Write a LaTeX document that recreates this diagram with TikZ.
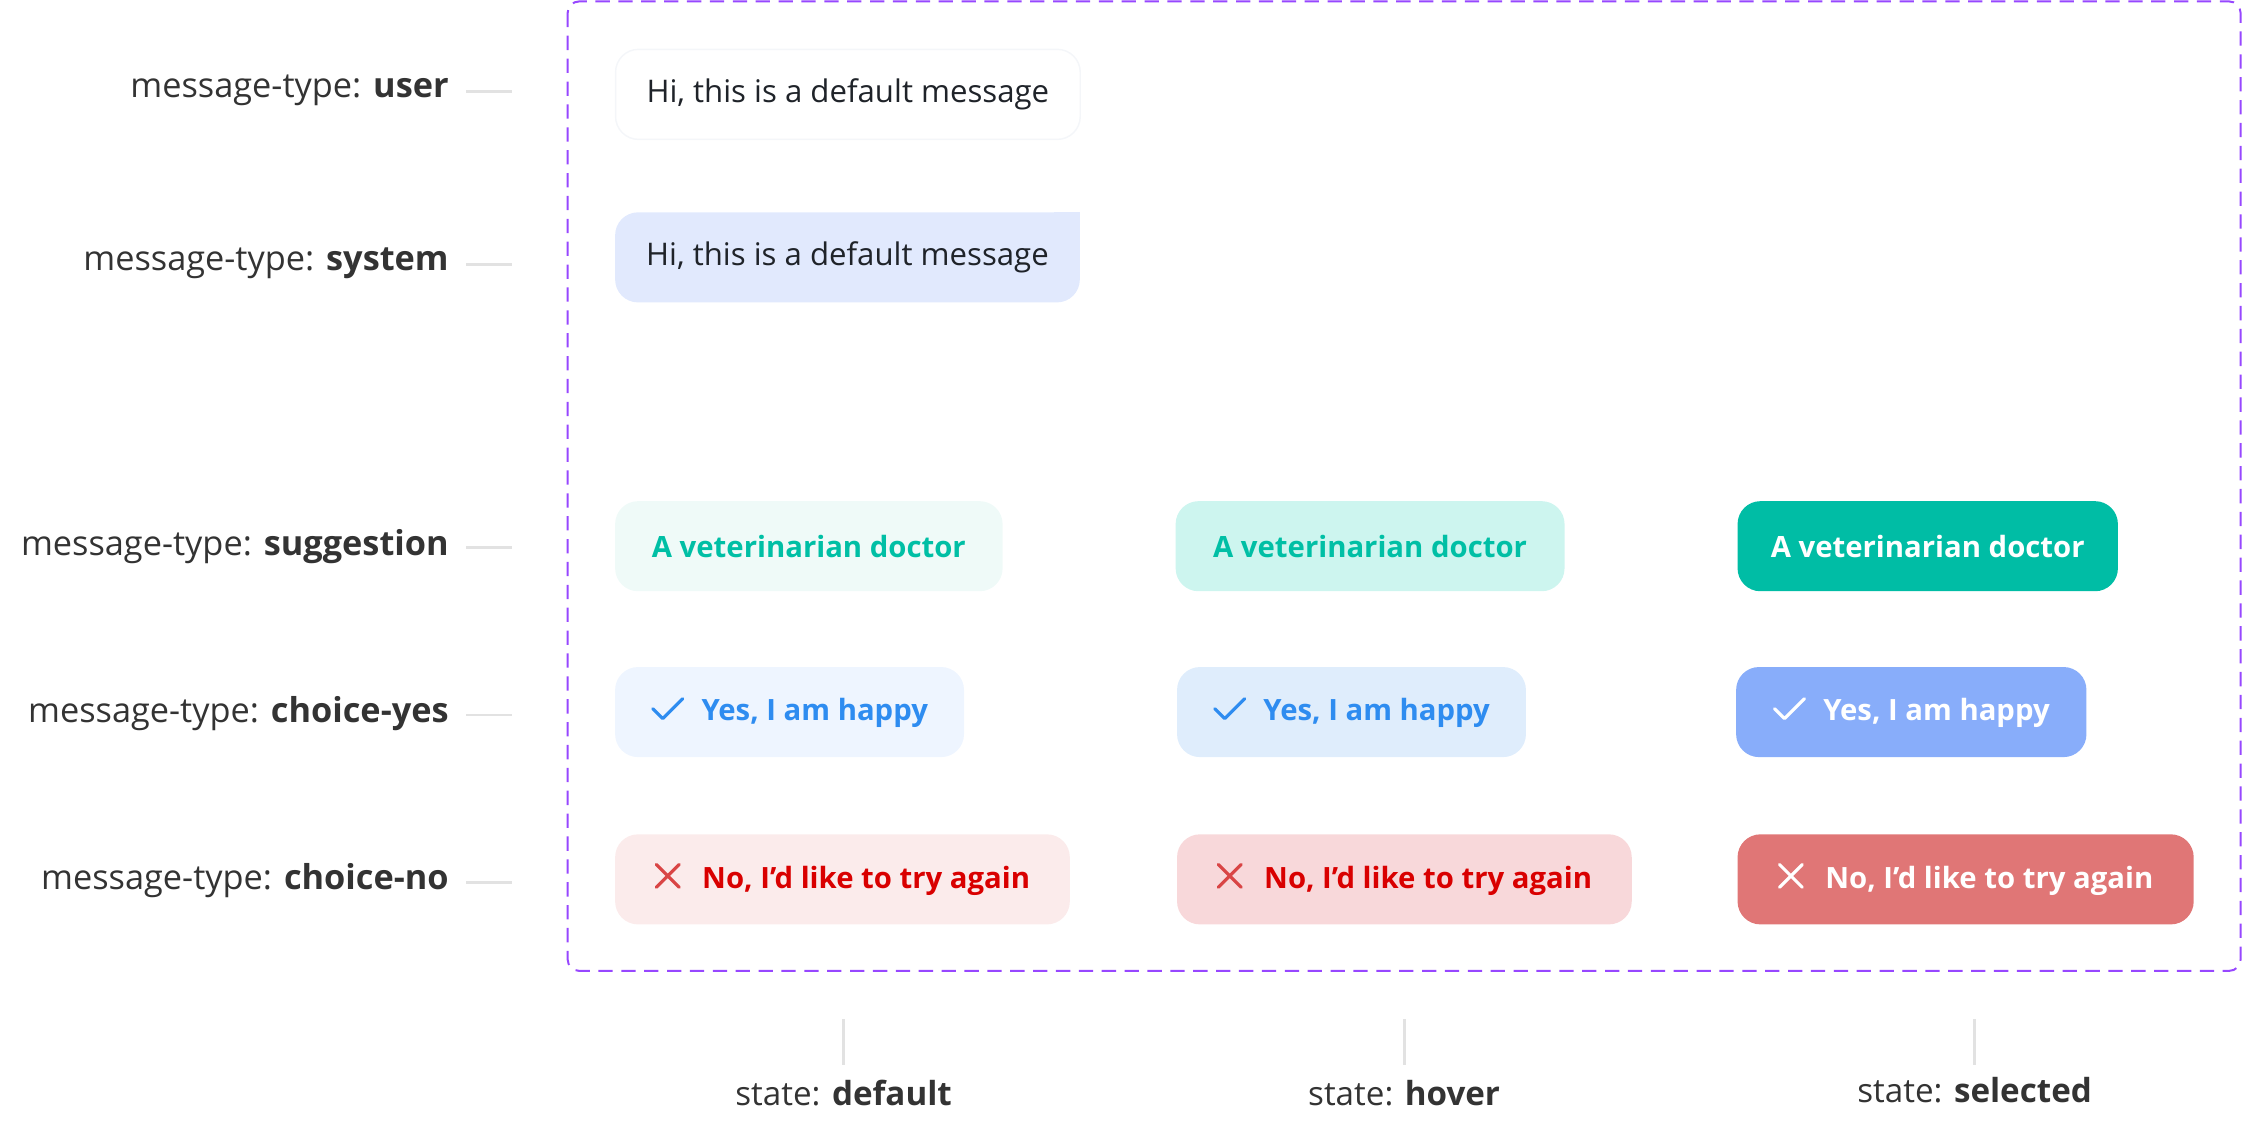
\documentclass[tikz,border=0pt]{standalone}
\usepackage{fontspec}
\setmainfont{Open Sans}
\usetikzlibrary{positioning}

\definecolor{frameviolet}{HTML}{9747FF}
\definecolor{labelgray}{HTML}{333333}
\definecolor{tickgray}{HTML}{E2E2E2}
\definecolor{msgdark}{HTML}{1F2329}
\definecolor{sysblue}{HTML}{E1E9FD}
\definecolor{userline}{HTML}{F4F6F9}
\definecolor{sugA}{HTML}{EFFAF8}
\definecolor{sugB}{HTML}{CDF5EF}
\definecolor{sugC}{HTML}{00BDA5}
\definecolor{sugtext}{HTML}{00BFA5}
\definecolor{yesA}{HTML}{EEF5FF}
\definecolor{yesB}{HTML}{DFEDFC}
\definecolor{yesC}{HTML}{88ADFA}
\definecolor{yestext}{HTML}{2E8CF0}
\definecolor{noA}{HTML}{FBEBEB}
\definecolor{noB}{HTML}{F8D8DA}
\definecolor{noC}{HTML}{E07676}
\definecolor{notext}{HTML}{D90000}
\definecolor{nomark}{HTML}{D94545}

% small icons set inline before the chip text
\newcommand{\okmark}[1]{\tikz[x=1pt,y=1pt,baseline=0pt,sharp corners]
  \draw[#1,line width=2.2pt,line cap=round,line join=round] (0,8) -- (7,1) -- (21,15);}
\newcommand{\nomark}[1]{\tikz[x=1pt,y=1pt,baseline=0pt,sharp corners]
  \draw[#1,line width=2.2pt,line cap=round] (1,1) -- (17,17) (1,17) -- (17,1);}

\tikzset{
  rowlabel/.style={anchor=east, inner sep=0pt, text=labelgray, font=\fontsize{24}{28}\selectfont},
  collabel/.style={anchor=base, text=labelgray, font=\fontsize{23.2}{27}\selectfont},
  tick/.style={draw=tickgray, line width=2pt},
  bubble/.style={anchor=west, minimum width=325pt, minimum height=63pt, inner sep=0pt,
    rounded corners=16pt, text=msgdark, font=\fontsize{21.8}{25}\selectfont},
  chip/.style={anchor=west, minimum height=63pt, inner sep=0pt, rounded corners=16pt,
    font=\bfseries\fontsize{20.5}{25}\selectfont},
}

\begin{document}
\begin{tikzpicture}[x=1pt,y=-1pt]
    \useasboundingbox (0,0) rectangle (1568,784);
    \draw[frameviolet, line width=1.4pt, dash pattern=on 10pt off 6pt, rounded corners=8pt]
        (397,1) rectangle (1567,679);

    % row labels
    \node[rowlabel] (luser) at (314,63) {message-type: \textbf{user}};
    \node[rowlabel] (lsys) at (314,184) {message-type: \textbf{system}};
    \node[rowlabel] (lsug) at (314,382) {message-type: \textbf{suggestion}};
    \node[rowlabel] (lyes) at (314,499) {message-type: \textbf{choice-yes}};
    \node[rowlabel] (lno) at (314,616) {message-type: \textbf{choice-no}};
    \foreach \l in {luser,lsys,lsug,lyes,lno}
        \draw[tick] ([xshift=12pt,yshift=-1pt]\l.east) -- ++(32,0);

    % messages
    \node[bubble, fill=white, draw=userline, line width=1pt] (user) at (430,66) {Hi, this is a default message};
    \node[bubble, fill=sysblue] (sys) at (430,180) {Hi, this is a default message};
    \fill[sysblue] (sys.north east) rectangle ++(-18,18);

    % suggestion
    \node[chip, fill=sugA, text=sugtext, minimum width=271pt] (sugdef) at (430,382) {A veterinarian doctor};
    \node[chip, fill=sugB, text=sugtext, minimum width=272pt] (sughov) at (822,382) {A veterinarian doctor};
    \node[chip, fill=sugC, text=white, minimum width=266pt] (sugsel) at (1215,382) {A veterinarian doctor};

    % choice-yes
    \node[chip, fill=yesA, text=yestext, minimum width=244pt] (yesdef) at (430,498)
        {\okmark{yestext}\hspace{12pt}Yes, I am happy};
    \node[chip, fill=yesB, text=yestext, minimum width=244pt] (yeshov) at (823,498)
        {\okmark{yestext}\hspace{12pt}Yes, I am happy};
    \node[chip, fill=yesC, text=white, minimum width=245pt] (yessel) at (1214,498)
        {\okmark{white}\hspace{12pt}Yes, I am happy};

    % choice-no
    \node[chip, fill=noA, text=notext, minimum width=318pt] (nodef) at (430,615)
        {\nomark{nomark}\hspace{15pt}No, I’d like to try again};
    \node[chip, fill=noB, text=notext, minimum width=318pt] (nohov) at (823,615)
        {\nomark{nomark}\hspace{15pt}No, I’d like to try again};
    \node[chip, fill=noC, text=white, minimum width=319pt] (nosel) at (1215,615)
        {\nomark{white}\hspace{15pt}No, I’d like to try again};

    % column labels
    \node[collabel] (sdef) at (590,773) {state: \textbf{default}};
    \node[collabel] (shov) at (982,773) {state: \textbf{hover}};
    \node[collabel] (ssel) at (1381,771) {state: \textbf{selected}};
    \draw[tick] ([yshift=28pt]sdef.base) -- ++(0,-32);
    \draw[tick] ([yshift=28pt]shov.base) -- ++(0,-32);
    \draw[tick] ([yshift=26pt]ssel.base) -- ++(0,-32);
\end{tikzpicture}
\end{document}
